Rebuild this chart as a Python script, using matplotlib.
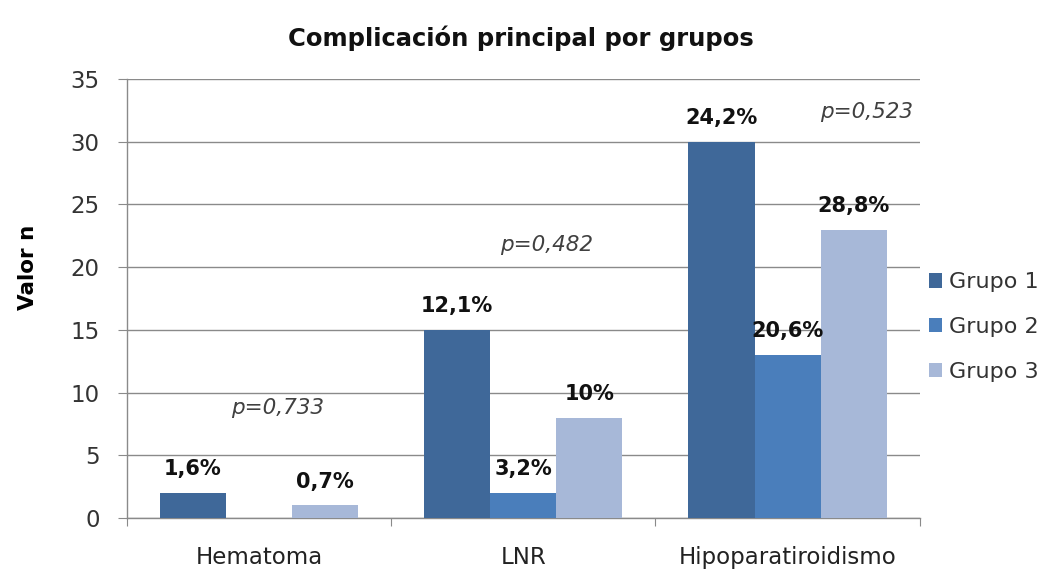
import numpy as np
import matplotlib.pyplot as plt

plt.rcParams['font.family'] = ['DejaVu Sans']

categorias = ["Hematoma", "LNR", "Hipoparatiroidismo"]
grupos = ["Grupo 1", "Grupo 2", "Grupo 3"]
grupo1 = [2, 15, 30]
grupo2 = [0, 2, 13]
grupo3 = [1, 8, 23]
etiquetas1 = ["1,6%", "12,1%", "24,2%"]
etiquetas2 = ["", "3,2%", "20,6%"]
etiquetas3 = ["0,7%", "10%", "28,8%"]
p_textos = ["p=0,733", "p=0,482", "p=0,523"]
p_pos = [(0.07, 8.8), (1.09, 21.8), (2.30, 32.4)]

colores = ["#3F6899", "#4A7EBB", "#A7B8D8"]

fig = plt.figure(figsize=(10.56, 5.73), dpi=100)
ax = fig.add_axes([0.120, 0.096, 0.751, 0.766])

x = np.arange(len(categorias))
w = 0.25
series = [grupo1, grupo2, grupo3]
etiquetas = [etiquetas1, etiquetas2, etiquetas3]
for i, (vals, labs) in enumerate(zip(series, etiquetas)):
    pos = x + (i - 1) * w
    ax.bar(pos, vals, w, color=colores[i], label=grupos[i], zorder=3)
    for xi, v, t in zip(pos, vals, labs):
        if t:
            ax.annotate(t, (xi, v), xytext=(0, 17), textcoords="offset points",
                        ha="center", va="center", fontsize=15, fontweight="bold",
                        color="#111111", zorder=4)

for t, (px, py) in zip(p_textos, p_pos):
    ax.text(px, py, t, ha="center", va="center", fontsize=15.5, style="italic",
            color="#404040")

ax.set_xlim(-0.5, 2.5)
ax.set_ylim(0, 35)
ax.set_yticks(range(0, 36, 5))
ax.yaxis.grid(True, color="#8a8a8a", linewidth=1.0, zorder=0)
ax.set_axisbelow(True)

ax.set_xticks([-0.5, 0.5, 1.5, 2.5])
ax.set_xticklabels([])
ax.set_xticks(x, minor=True)
ax.set_xticklabels(categorias, minor=True)
ax.tick_params(axis="x", which="minor", length=0, labelsize=16.5, pad=20,
               labelcolor="#222222")
ax.tick_params(axis="x", which="major", length=6, direction="out", color="#8a8a8a")
ax.tick_params(axis="y", length=6.5, direction="out", color="#8a8a8a",
               labelsize=16.5, labelcolor="#333333", pad=13)

for s in ["top", "right"]:
    ax.spines[s].set_visible(False)
for s in ["left", "bottom"]:
    ax.spines[s].set_color("#8a8a8a")
    ax.spines[s].set_linewidth(1.0)

ax.set_ylabel("Valor n", fontsize=15.5, fontweight="bold")
ax.yaxis.set_label_coords(-0.112, 0.57)

fig.text(0.493, 0.934, "Complicación principal por grupos", ha="center",
         va="center", fontsize=17.5, fontweight="bold", color="#111111")

leg = ax.legend(loc="upper left", bbox_to_anchor=(1.0, 0.58), frameon=False,
                fontsize=16, handlelength=0.6, handleheight=0.6,
                handletextpad=0.3, labelspacing=1.12, borderaxespad=0)
for t in leg.get_texts():
    t.set_color("#333333")

fig.savefig("out.png", dpi=100)
